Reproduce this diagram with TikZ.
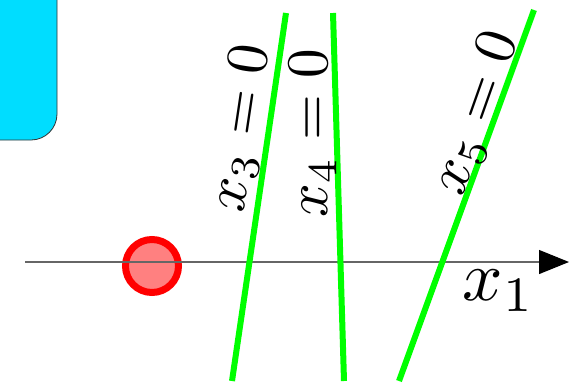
\documentclass[tikz,border=0pt]{standalone}
\usetikzlibrary{arrows.meta}
\definecolor{boxcyan}{RGB}{0,221,255}
\definecolor{pointred}{RGB}{255,0,0}
\definecolor{linegreen}{RGB}{0,255,0}
\tikzset{
  constraint/.style={draw=linegreen, line width=6pt},
  biglabel/.style={scale=5.9, inner sep=0pt},
  axisline/.style={draw=black!60, line width=1.2pt, -{Triangle[length=30pt,width=24pt,fill=black,color=black]}},
}
\begin{document}
\begin{tikzpicture}[x=1pt,y=-1pt]
\useasboundingbox (0,0) rectangle (583,383);
\begin{scope}
\clip (0,0) rectangle (583,383);
\draw[fill=boxcyan, draw=black!80, line width=0.8pt, rounded corners=26pt] (-40,-40) rectangle (57,140);
\end{scope}
% point
\node[circle, minimum size=53pt, inner sep=0pt, draw=pointred, line width=7pt, fill=pointred!50] (p) at (152,266) {};
% axis
\coordinate (a0) at (25,262);
\coordinate (a1) at (569,262);
\draw[axisline] (a0) -- (a1);
% constraint lines
\coordinate (l3t) at (286,13);
\coordinate (l3b) at (232,381);
\coordinate (l4t) at (333,13);
\coordinate (l4b) at (344,381);
\coordinate (l5t) at (534,10);
\coordinate (l5b) at (399,381);
\draw[constraint] (l3t) -- (l3b);
\draw[constraint] (l4t) -- (l4b);
\draw[constraint] (l5t) -- (l5b);
% labels
\node[biglabel, rotate=81.5] (t3) at (242,128) {$x_3=0$};
\node[biglabel, rotate=90] (t4) at (313,133) {$x_4=0$};
\node[biglabel, rotate=70.5] (t5) at (477,113) {$x_5=0$};
\node[biglabel, scale=1.2] (t1) at (499,291) {$x_1$};
\end{tikzpicture}
\end{document}
